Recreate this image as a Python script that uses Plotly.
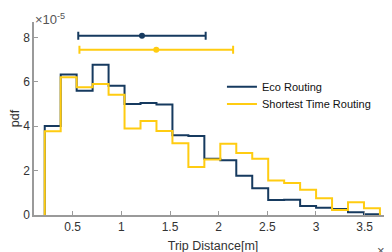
import plotly.graph_objects as go

# Histogram bin edges (metres)
bin_edges = [2130, 3770, 5410, 7050, 8690, 10330, 11970, 13610, 15250, 16890, 18530,
             20170, 21810, 23450, 25090, 26730, 28370, 30010, 31650, 33290, 34930, 36570]
# pdf values (x 1e-5)
eco_pdf = [4.01, 6.33, 5.60, 6.77, 5.83, 5.00, 5.05, 4.98, 3.60, 3.56, 2.53,
           2.47, 1.77, 1.21, 0.68, 0.69, 0.41, 0.33, 0.27, 0.12, 0.03]
short_pdf = [3.77, 6.21, 5.76, 5.90, 5.42, 3.90, 4.24, 3.79, 3.23, 2.16, 2.50,
             3.21, 2.80, 2.53, 1.55, 1.44, 1.14, 0.76, 0.23, 0.58, 0.30]
# mean +/- std markers
eco_mean, eco_std, eco_y = 12120, 6545, 8.08
short_mean, short_std, short_y = 13590, 7895, 7.45

x_ticks = [5000, 10000, 15000, 20000, 25000, 30000, 35000]
x_tick_labels = ["0.5", "1", "1.5", "2", "2.5", "3", "3.5"]
y_ticks = [0, 2, 4, 6, 8]
y_tick_labels = ["0", "2", "4", "6", "8"]

BLUE = "#163a5f"
GOLD = "#ffcc11"
FONT = "Liberation Sans, Arial, sans-serif"
AX = "#9a9a9a"
TXT = "#333333"


def stairs(edges, vals):
    xs = [edges[0]] + list(edges) + [edges[-1]]
    ys = [0] + [v * 1e-5 for v in vals] + [vals[-1] * 1e-5] + [0]
    return xs, ys


fig = go.Figure()
bx, by = stairs(bin_edges, eco_pdf)
sx, sy = stairs(bin_edges, short_pdf)
fig.add_trace(go.Scatter(x=bx, y=by, mode="lines", line=dict(color=BLUE, width=2, shape="hv"),
                         name="Eco Routing", legend="legend"))
fig.add_trace(go.Scatter(x=sx, y=sy, mode="lines", line=dict(color=GOLD, width=2, shape="hv"),
                         name="Shortest Time Routing", legend="legend2"))
fig.add_trace(go.Scatter(x=[eco_mean], y=[eco_y * 1e-5], mode="markers",
                         marker=dict(color=BLUE, size=6),
                         error_x=dict(type="data", array=[eco_std], color=BLUE, thickness=2, width=4),
                         showlegend=False))
fig.add_trace(go.Scatter(x=[short_mean], y=[short_y * 1e-5], mode="markers",
                         marker=dict(color=GOLD, size=6),
                         error_x=dict(type="data", array=[short_std], color=GOLD, thickness=2, width=4),
                         showlegend=False))

leg_common = dict(xanchor="left", yanchor="middle", bgcolor="rgba(255,255,255,0)",
                  font=dict(size=11, color="#111111"), itemwidth=30)
fig.update_layout(
    width=392, height=252,
    margin=dict(l=26, r=8, t=14, b=45),
    plot_bgcolor="white", paper_bgcolor="white",
    font=dict(family=FONT, size=12, color=TXT),
    showlegend=True,
    legend=dict(x=0.525, y=0.665, **leg_common),
    legend2=dict(x=0.525, y=0.575, **leg_common),
    xaxis=dict(range=[1027, 37810], showgrid=False, zeroline=False, automargin=False,
               showline=True, linecolor=AX, linewidth=1.5,
               ticks="inside", ticklen=4, tickcolor=AX, tickwidth=1,
               tickvals=x_ticks, ticktext=x_tick_labels,
               title=dict(text="Trip Distance[m]", font=dict(size=12.5, color=TXT), standoff=8)),
    yaxis=dict(range=[0, 8.7e-5], showgrid=False, zeroline=False, automargin=False,
               showline=True, linecolor=AX, linewidth=1.5,
               ticks="inside", ticklen=4, tickcolor=AX, tickwidth=1,
               tickvals=[v * 1e-5 for v in y_ticks], ticktext=y_tick_labels,
               title=dict(text="pdf", font=dict(size=12.5, color=TXT), standoff=4)),
)
fig.add_annotation(x=0, y=1.0, xref="paper", yref="paper", xanchor="left", yanchor="bottom",
                   text="\u00d710<sup>-5</sup>", showarrow=False, xshift=-1, yshift=-7,
                   font=dict(size=13, color="#555555"))
fig.add_annotation(x=1.0, y=0, xref="paper", yref="paper", xanchor="right", yanchor="top",
                   text="\u00d710<sup>4</sup>", showarrow=False, yshift=-25, xshift=14,
                   font=dict(size=13, color="#555555"))

fig.write_html("out.html")
